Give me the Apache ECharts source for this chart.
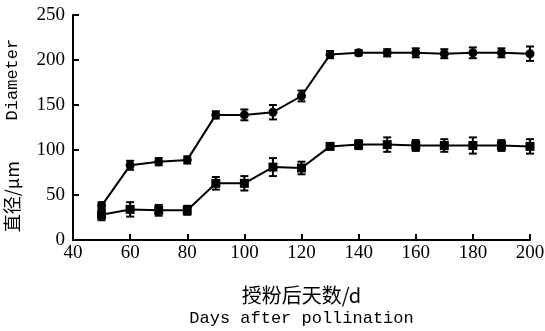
<!DOCTYPE html>
<html><head><meta charset="utf-8">
<script src="https://cdn.jsdelivr.net/npm/echarts@6/dist/echarts.min.js"></script>
<style>html,body{margin:0;padding:0;background:#fff}#c{width:545px;height:331px}</style>
</head><body><div id="c"></div>
<script>
var days = [50,60,70,80,90,100,110,120,130,140,150,160,170,180,190,200];
var upper = [38,83,87,89,139,139,142,160,206,208,208,208,207,208,208,207];
var upperErr = [4,5,4,4,4,6,8,6,4,3,4,5,5,6,5,8];
var lower = [28,34,33,33,63,63,81,80,104,106,106,105,105,105,105,104];
var lowerErr = [6,8,6,5,7,8,10,7,3,5,8,6,7,9,6,8];
var xTicks = [40,60,80,100,120,140,160,180,200];
var yTicks = [0,50,100,150,200,250];

var mono = '"Liberation Mono", "Noto Sans CJK SC", monospace';
var serif = '"Liberation Serif", serif';
var cjk = '"Noto Sans CJK SC"';
function pts(v){ return days.map(function(d,i){ return [d, v[i]]; }); }
function errData(v,e){ return days.map(function(d,i){ return [d, v[i]-e[i], v[i]+e[i]]; }); }
function errRender(params, api){
  var x = api.value(0), lo = api.value(1), hi = api.value(2);
  var pLo = api.coord([x, lo]), pHi = api.coord([x, hi]);
  var w = 4;
  var st = {stroke:'#000', lineWidth:2};
  return {type:'group', children:[
    {type:'line', shape:{x1:pLo[0], y1:pLo[1], x2:pHi[0], y2:pHi[1]}, style:st},
    {type:'line', shape:{x1:pLo[0]-w, y1:pLo[1], x2:pLo[0]+w, y2:pLo[1]}, style:st},
    {type:'line', shape:{x1:pHi[0]-w, y1:pHi[1], x2:pHi[0]+w, y2:pHi[1]}, style:st}
  ]};
}
var chart = echarts.init(document.getElementById('c'));
chart.setOption({
  animation:false,
  grid:{left:73, right:15, top:15, bottom:91, containLabel:false, outerBoundsMode:'none'},
  xAxis:{
    type:'value', min:40, max:200, interval:20,
    axisLine:{lineStyle:{color:'#000', width:2}},
    axisTick:{inside:true, length:6, lineStyle:{color:'#000', width:2}},
    axisLabel:{color:'#000', fontFamily:serif, fontSize:19, margin:4,
      formatter:function(v){ return xTicks.indexOf(v)>=0 ? String(v) : ''; }},
    splitLine:{show:false},
    name:'{cn|授粉后天数/d}\n{en|Days after pollination}',
    nameLocation:'middle', nameGap:43,
    nameTextStyle:{rich:{
      cn:{fontFamily:cjk, fontSize:20, color:'#000', lineHeight:24},
      en:{fontFamily:mono, fontSize:17, color:'#000', lineHeight:22}
    }}
  },
  yAxis:{
    type:'value', min:0, max:250, interval:50,
    axisLine:{show:true, lineStyle:{color:'#000', width:2}},
    axisTick:{show:true, inside:true, length:6, lineStyle:{color:'#000', width:2}},
    axisLabel:{color:'#000', fontFamily:serif, fontSize:19, margin:8,
      formatter:function(v){ return yTicks.indexOf(v)>=0 ? String(v) : ''; }},
    splitLine:{show:false},
    name:'{cn|直径/μm}{en|    Diameter}',
    nameLocation:'middle', nameGap:52,
    nameTextStyle:{rich:{
      cn:{fontFamily:cjk, fontSize:18, color:'#000'},
      en:{fontFamily:mono, fontSize:17, color:'#000', padding:[0,16,0,0]}
    }}
  },
  series:[
    {type:'line', data:pts(upper), symbol:'circle', symbolSize:9,
      lineStyle:{color:'#000', width:2}, itemStyle:{color:'#000'}},
    {type:'line', data:pts(lower), symbol:'rect', symbolSize:9,
      lineStyle:{color:'#000', width:2}, itemStyle:{color:'#000'}},
    {type:'custom', data:errData(upper,upperErr), renderItem:errRender, encode:{x:0, y:[1,2]}, z:3},
    {type:'custom', data:errData(lower,lowerErr), renderItem:errRender, encode:{x:0, y:[1,2]}, z:3}
  ]
});
</script></body></html>
